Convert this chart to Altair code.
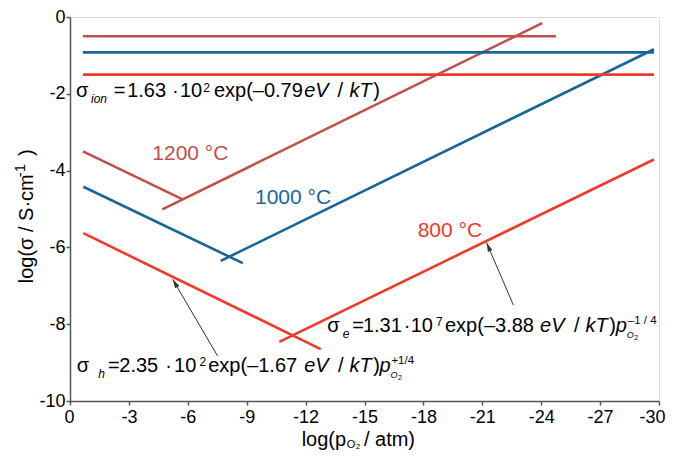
import math
import altair as alt
import pandas as pd

# ---------------- data ----------------
W, H = 589, 384
X_DOM = [-30, 0]
Y_DOM = [-10, 0]
x_ticks = [0, -3, -6, -9, -12, -15, -18, -21, -24, -27, -30]
y_ticks = [0, -2, -4, -6, -8, -10]

temps = ["1200 °C", "1000 °C", "800 °C"]
colors = ["#c0504d", "#17669a", "#ee3a2a"]

# ionic conductivity (horizontal lines)
ion_level = [-0.5, -0.92, -1.5]
ion_x = [[-0.66, -24.75], [-0.66, -29.74], [-0.66, -29.74]]

# hole branch (slope +1/4 in pO2, falls to the right)
h_x = [[-0.66, -5.74], [-0.68, -8.80], [-0.68, -12.77]]
h_y = [[-3.50, -4.75], [-4.42, -6.41], [-5.63, -8.65]]

# electron branch (slope -1/4 in pO2, rises to the right)
e_x = [[-4.70, -24.05], [-7.68, -29.74], [-10.66, -29.74]]
e_y = [[-5.01, -0.16], [-6.35, -0.84], [-8.46, -3.71]]

# temperature labels
label_x = [-6.13, -11.36, -19.35]
label_y = [-3.58, -4.72, -5.57]

# arrows (tail -> head)
arrow_tail_x = [-7.52, -22.58]
arrow_tail_y = [-8.83, -7.50]
arrow_head_x = [-5.23, -21.22]
arrow_head_y = [-6.83, -5.88]

# equation pieces: (text, x, y, size, italic)
eq_ion = [
    ("σ", -0.31, -2.076, 20, False),
    ("ion", -1.07, -2.247, 12, True),
    ("=", -2.23, -2.076, 20, False),
    ("1.63", -2.91, -2.076, 20, False),
    ("·", -5.19, -2.076, 20, False),
    ("10", -5.60, -2.076, 20, False),
    ("2", -6.79, -1.945, 12, False),
    ("exp(–0.79", -7.33, -2.076, 20, False),
    ("eV", -11.93, -2.076, 20, True),
    ("/", -13.62, -2.076, 20, False),
    ("kT", -14.24, -2.076, 20, True),
    (")", -15.45, -2.076, 20, False),
]
eq_h = [
    ("σ", -0.34, -9.253, 20, False),
    ("h", -1.44, -9.393, 12, True),
    ("=", -1.93, -9.253, 20, False),
    ("2.35", -2.51, -9.253, 20, False),
    ("·", -4.85, -9.253, 20, False),
    ("10", -5.30, -9.253, 20, False),
    ("2", -6.59, -9.089, 12, False),
    ("exp(–1.67", -7.04, -9.253, 20, False),
    ("eV", -11.93, -9.253, 20, True),
    ("/", -13.65, -9.253, 20, False),
    ("kT", -14.24, -9.253, 20, True),
    (")", -15.45, -9.253, 20, False),
    ("p", -15.76, -9.253, 20, True),
    ("O", -16.32, -9.393, 9, True),
    ("2", -16.70, -9.461, 7, False),
    ("+1/4", -16.37, -9.036, 11.5, False),
]
eq_e = [
    ("σ", -13.10, -8.211, 20, False),
    ("e", -13.89, -8.352, 12, True),
    ("=", -14.37, -8.211, 20, False),
    ("1.31", -14.92, -8.211, 20, False),
    ("·", -17.00, -8.211, 20, False),
    ("10", -17.35, -8.211, 20, False),
    ("7", -18.64, -8.039, 12, False),
    ("exp(–3.88", -19.10, -8.211, 20, False),
    ("eV", -23.94, -8.211, 20, True),
    ("/", -25.67, -8.211, 20, False),
    ("kT", -26.26, -8.211, 20, True),
    (")", -27.47, -8.211, 20, False),
    ("p", -27.80, -8.211, 20, True),
    ("O", -28.36, -8.352, 9, True),
    ("2", -28.74, -8.419, 7, False),
    ("–1 / 4", -28.41, -7.995, 11.5, False),
]
x_title = [
    ("log(p", -11.80, -11.172, 20, False),
    ("O", -14.09, -11.224, 11, False),
    ("2", -14.55, -11.263, 8, False),
    ("/ atm)", -14.97, -11.172, 20, False),
]
# y title pieces (rotated, reading upwards): (text, x, y, size)
y_title = [
    ("log(σ / S·cm", 1.86, -6.935, 20),
    ("-1", 2.29, -4.17, 15),
    (")", 1.86, -3.62, 20),
]

# ---------------- tables ----------------
rows = []
for i, t in enumerate(temps):
    for k in range(2):
        rows.append({"seg": f"ion{i}", "temp": t, "x": ion_x[i][k], "y": ion_level[i], "k": k})
    for k in range(2):
        rows.append({"seg": f"h{i}", "temp": t, "x": h_x[i][k], "y": h_y[i][k], "k": k})
    for k in range(2):
        rows.append({"seg": f"e{i}", "temp": t, "x": e_x[i][k], "y": e_y[i][k], "k": k})
lines_df = pd.DataFrame(rows)

labels_df = pd.DataFrame({"temp": temps, "x": label_x, "y": label_y})

arrows = []
for xt, yt, xh, yh in zip(arrow_tail_x, arrow_tail_y, arrow_head_x, arrow_head_y):
    dxp = -(xh - xt) * W / 30.0
    dyp = -(yh - yt) * H / 10.0
    ang = math.degrees(math.atan2(dxp, -dyp)) % 360
    arrows.append({"xt": xt, "yt": yt, "xh": xh, "yh": yh, "ang": ang})
arrows_df = pd.DataFrame(arrows)

eq_df = pd.DataFrame(eq_ion + eq_h + eq_e + x_title,
                     columns=["text", "x", "y", "size", "italic"])
yt_df = pd.DataFrame(y_title, columns=["text", "x", "y", "size"])

FONT = "Liberation Sans"
xs = alt.Scale(domain=X_DOM, reverse=True, nice=False, zero=False)
ys = alt.Scale(domain=Y_DOM, nice=False, zero=False)
color_scale = alt.Scale(domain=temps, range=colors)

x_axis = alt.Axis(values=x_ticks, title=None, grid=False,
                  labelExpr="datum.value == 0 ? '0' : '-' + abs(datum.value)",
                  labelFont=FONT, labelFontSize=18, labelColor="black",
                  labelPadding=3, tickSize=4, tickColor="#555", tickWidth=1.5,
                  domainColor="#555", domainWidth=1.5,
                  labelFlush=True, labelFlushOffset=6)
y_axis = alt.Axis(values=y_ticks, title=None, grid=False,
                  labelExpr="datum.value == 0 ? '0' : '-' + abs(datum.value)",
                  labelFont=FONT, labelFontSize=18, labelColor="black",
                  labelPadding=1, tickSize=4, tickColor="#555", tickWidth=1.5,
                  domainColor="#555", domainWidth=1.5, labelFlush=False)

lines = alt.Chart(lines_df).mark_line(strokeWidth=2.6).encode(
    x=alt.X("x:Q", scale=xs, axis=x_axis),
    y=alt.Y("y:Q", scale=ys, axis=y_axis),
    color=alt.Color("temp:N", scale=color_scale, legend=None),
    detail="seg:N",
    order="k:Q",
)

labels = alt.Chart(labels_df).mark_text(font=FONT, fontSize=21, align="center",
                                        baseline="middle").encode(
    x=alt.X("x:Q", scale=xs),
    y=alt.Y("y:Q", scale=ys),
    text="temp:N",
    color=alt.Color("temp:N", scale=color_scale, legend=None),
)

arrow_lines = alt.Chart(arrows_df).mark_rule(color="#333", strokeWidth=1).encode(
    x=alt.X("xt:Q", scale=xs), y=alt.Y("yt:Q", scale=ys),
    x2="xh:Q", y2="yh:Q",
)
arrow_heads = alt.Chart(arrows_df).mark_point(
    shape="M0,0L-0.55,2L0.55,2Z", filled=True, color="#333", opacity=1, size=80,
    strokeWidth=0,
).encode(
    x=alt.X("xh:Q", scale=xs), y=alt.Y("yh:Q", scale=ys),
    angle=alt.Angle("ang:Q", scale=None),
)

eq_normal = alt.Chart(eq_df).transform_filter("!datum.italic").mark_text(
    font=FONT, align="left", baseline="alphabetic", color="black",
).encode(
    x=alt.X("x:Q", scale=xs), y=alt.Y("y:Q", scale=ys),
    text="text:N", size=alt.Size("size:Q", scale=None),
)
eq_italic = alt.Chart(eq_df).transform_filter("datum.italic").mark_text(
    font=FONT, align="left", baseline="alphabetic", color="black", fontStyle="italic",
).encode(
    x=alt.X("x:Q", scale=xs), y=alt.Y("y:Q", scale=ys),
    text="text:N", size=alt.Size("size:Q", scale=None),
)
y_title_marks = alt.Chart(yt_df).mark_text(
    font=FONT, align="left", baseline="alphabetic", color="black", angle=270,
).encode(
    x=alt.X("x:Q", scale=xs), y=alt.Y("y:Q", scale=ys),
    text="text:N", size=alt.Size("size:Q", scale=None),
)

chart = alt.layer(lines, arrow_lines, arrow_heads, labels, eq_normal, eq_italic,
                  y_title_marks).properties(
    width=W, height=H,
    autosize=alt.AutoSizeParams(type="none"),
    padding={"left": 62, "top": 9, "right": 7, "bottom": 50},
).configure_view(
    fill="#fdf7dc", stroke="#555", strokeWidth=1.5,
).configure(background="white")

chart.save("out.html", embed_options={"renderer": "svg", "actions": False})
